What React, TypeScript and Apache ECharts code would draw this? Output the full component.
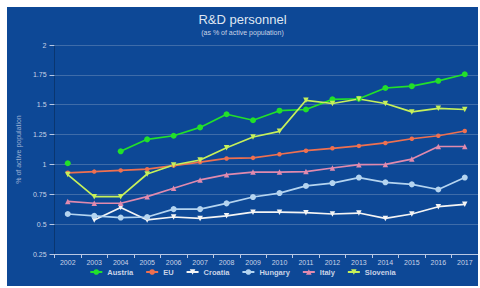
import React, { useEffect, useRef } from "react";
import * as echarts from "echarts";

const years = ["2002","2003","2004","2005","2006","2007","2008","2009","2010","2011","2012","2013","2014","2015","2016","2017"];
const austria = [1.01, null, 1.11, 1.21, 1.24, 1.31, 1.42, 1.37, 1.45, 1.46, 1.545, 1.55, 1.64, 1.655, 1.70, 1.755];
const eu = [0.93, 0.94, 0.95, 0.96, 0.99, 1.02, 1.05, 1.055, 1.085, 1.115, 1.135, 1.155, 1.18, 1.215, 1.24, 1.28];
const croatia = [null, 0.535, 0.64, 0.535, 0.56, 0.548, 0.57, 0.60, 0.60, 0.596, 0.585, 0.593, 0.548, 0.585, 0.646, 0.666];
const hungary = [0.585, 0.57, 0.555, 0.56, 0.626, 0.626, 0.674, 0.727, 0.76, 0.82, 0.844, 0.89, 0.85, 0.833, 0.79, 0.89];
const italy = [0.69, 0.675, 0.675, 0.73, 0.80, 0.87, 0.914, 0.936, 0.936, 0.94, 0.97, 0.998, 1.0, 1.045, 1.15, 1.15];
const slovenia = [0.915, 0.73, 0.73, 0.92, 0.995, 1.037, 1.14, 1.23, 1.277, 1.537, 1.51, 1.548, 1.51, 1.44, 1.47, 1.46];
const seriesNames = ["Austria", "EU", "Croatia", "Hungary", "Italy", "Slovenia"];

const FONT = "Liberation Sans";
const TXT = "#c9d3e6";

export default function App() {
  const ref = useRef<HTMLDivElement>(null);
  useEffect(() => {
    if (!ref.current) return;
    const chart = echarts.init(ref.current, null, { renderer: "svg" });
    const mk = (name: string, data: (number | null)[], color: string, symbol: string, size: number, rotate = 0) => ({
      name,
      type: "line",
      data,
      connectNulls: false,
      symbol,
      symbolSize: size,
      symbolRotate: rotate,
      showAllSymbol: true,
      lineStyle: { color, width: 1.7 },
      itemStyle: { color },
    });
    chart.setOption({
      animation: false,
      backgroundColor: "#0d4896",
      textStyle: { fontFamily: FONT },
      title: {
        text: "R&D personnel",
        subtext: "(as % of active population)",
        left: "center",
        top: 1,
        itemGap: 3,
        textStyle: { color: "#dfe6f2", fontSize: 13, fontWeight: "normal", fontFamily: FONT },
        subtextStyle: { color: "#c9d3e6", fontSize: 7, fontFamily: FONT },
      },
      legend: {
        bottom: 5,
        left: "center",
        itemWidth: 12,
        itemHeight: 7,
        itemGap: 12,
        textStyle: { color: "#c9d3e6", fontSize: 7.5, fontWeight: "bold", fontFamily: FONT },
        data: seriesNames,
      },
      grid: { left: 46, right: 0, top: 38, bottom: 32 },
      xAxis: {
        type: "category",
        data: years,
        boundaryGap: true,
        axisLine: { lineStyle: { color: "#b8c8e4", width: 1 } },
        axisTick: { show: true, length: 4, lineStyle: { color: "#b8c8e4" } },
        axisLabel: { color: TXT, fontSize: 7, margin: 5, interval: 0 },
      },
      yAxis: {
        type: "value",
        min: 0.25,
        max: 2,
        interval: 0.25,
        name: "% of active population",
        nameLocation: "middle",
        nameGap: 29,
        nameTextStyle: { color: "#9fb2d4", fontSize: 7 },
        axisLine: { show: true, lineStyle: { color: "#0a3670", width: 1 } },
        axisTick: { show: true, length: 5, lineStyle: { color: "#b8c8e4" } },
        axisLabel: { color: TXT, fontSize: 7, margin: 8 },
        splitLine: { lineStyle: { color: "rgba(190,200,220,0.28)", width: 1 } },
      },
      series: [
        mk("Austria", austria, "#22e02a", "circle", 6),
        mk("EU", eu, "#ee7050", "circle", 4.5),
        mk("Croatia", croatia, "#f4f4f4", "triangle", 5.5, 180),
        mk("Hungary", hungary, "#b4d4f0", "circle", 6),
        mk("Italy", italy, "#e08aae", "triangle", 5.5),
        mk("Slovenia", slovenia, "#c6f05a", "triangle", 5.5, 180),
      ],
    });
    return () => chart.dispose();
  }, []);
  return (
    <div style={{ position: "fixed", left: 0, top: 0, width: 480, height: 288, background: "#fff" }}>
      <div ref={ref} style={{ position: "absolute", left: 7, top: 7, width: 471, height: 279 }} />
    </div>
  );
}
